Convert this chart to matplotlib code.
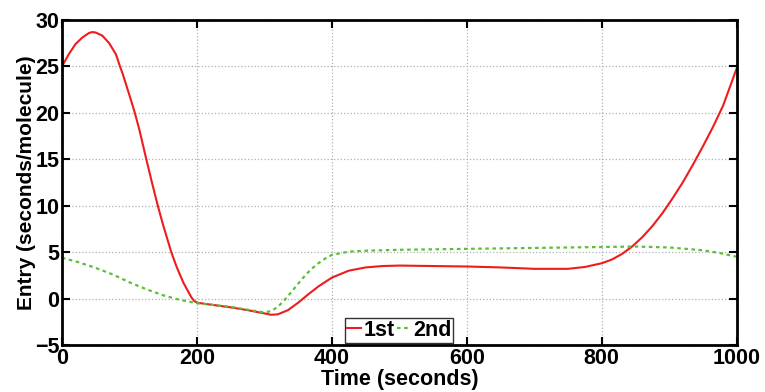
import matplotlib
matplotlib.use("Agg")
import matplotlib.pyplot as plt

# =====================
# data
# =====================
t_first = [0, 10, 20, 30, 40, 45, 50, 60, 70, 80, 86, 90, 100, 108, 115, 125, 133,
           142, 150, 162, 170, 180, 186, 192, 196, 200, 225, 250, 275, 300, 310,
           320, 335, 350, 365, 380, 400, 425, 450, 475, 500, 550, 600, 650, 700,
           750, 775, 800, 815, 830, 845, 860, 875, 890, 905, 920, 935, 950, 965,
           980, 1000]
first = [25.0, 26.3, 27.4, 28.1, 28.6, 28.7, 28.65, 28.3, 27.5, 26.3, 25.0, 24.2,
         21.9, 20.0, 18.1, 15.0, 12.6, 10.0, 7.9, 5.0, 3.4, 1.7, 0.9, 0.1, -0.25,
         -0.45, -0.7, -0.95, -1.25, -1.6, -1.75, -1.7, -1.25, -0.45, 0.45, 1.3,
         2.25, 3.0, 3.35, 3.5, 3.55, 3.5, 3.45, 3.35, 3.2, 3.2, 3.4, 3.8, 4.2,
         4.8, 5.6, 6.6, 7.8, 9.2, 10.8, 12.5, 14.4, 16.4, 18.5, 20.8, 24.8]

t_second = [0, 25, 50, 75, 100, 125, 150, 175, 200, 225, 250, 275, 300, 310, 320,
            330, 340, 350, 360, 370, 380, 390, 400, 425, 450, 500, 550, 600, 650,
            700, 750, 800, 850, 900, 925, 950, 975, 1000]
second = [4.4, 3.9, 3.3, 2.6, 1.75, 1.0, 0.35, -0.15, -0.5, -0.7, -0.9, -1.2,
          -1.5, -1.35, -0.9, -0.15, 0.7, 1.6, 2.45, 3.2, 3.8, 4.3, 4.7, 5.05, 5.15,
          5.25, 5.3, 5.35, 5.4, 5.45, 5.5, 5.55, 5.6, 5.5, 5.35, 5.2, 4.9, 4.5]

labels = ["1st", "2nd"]
x_ticks = [0, 200, 400, 600, 800, 1000]
y_ticks = [-5, 0, 5, 10, 15, 20, 25, 30]

# =====================
# figure
# =====================
plt.rcParams["font.family"] = ["Liberation Sans", "DejaVu Sans"]
plt.rcParams["font.weight"] = "bold"

fig = plt.figure(figsize=(7.65, 3.92), dpi=100)
ax = fig.add_axes([0.081, 0.120, 0.882, 0.829])

ax.plot(t_first, first, color="#ee1c1c", lw=1.5, label=labels[0])
ax.plot(t_second, second, color="#5cbf3a", lw=1.6, ls=(0, (1.6, 1.6)),
        label=labels[1])

ax.set_xlim(0, 1000)
ax.set_ylim(-5, 30)
ax.set_xticks(x_ticks)
ax.set_yticks(y_ticks)
ax.grid(True, color="#b0b0b0", ls=":", lw=0.9)

for s in ax.spines.values():
    s.set_linewidth(2)
ax.tick_params(direction="in", length=6, width=1.5, top=True, right=True,
               labelsize=15.5, pad=2)
for lab in ax.get_xticklabels() + ax.get_yticklabels():
    lab.set_fontweight("bold")

ax.set_xlabel("Time (seconds)", fontsize=15.5, fontweight="bold", labelpad=0.5)
ax.set_ylabel("Entry (seconds/molecule)", fontsize=15, fontweight="bold",
              labelpad=-1)

leg = ax.legend(loc="lower center", bbox_to_anchor=(0.5, 0.006), ncol=2,
                fontsize=15.5, frameon=True, fancybox=False, handlelength=0.65,
                handletextpad=0.1, columnspacing=0.1, borderpad=0.1,
                borderaxespad=0.0)
leg.get_frame().set_edgecolor("black")
leg.get_frame().set_linewidth(1.0)

fig.savefig("out.png", dpi=100)
